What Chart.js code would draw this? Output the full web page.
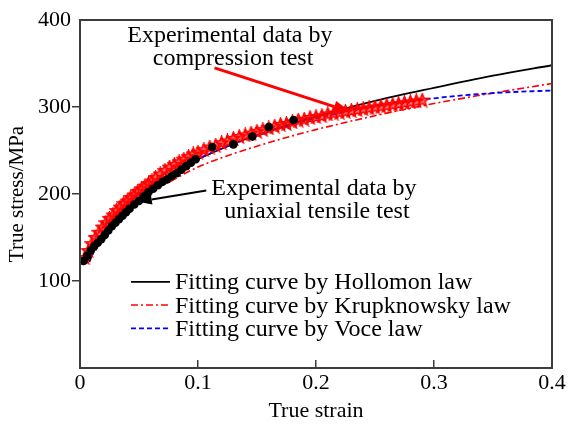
<!DOCTYPE html>
<html lang="en">
<head>
<meta charset="UTF-8">
<title>True stress - true strain</title>
<script src="https://cdn.jsdelivr.net/npm/chart.js"></script>
<style>
  body { margin: 0; background: #fff; }
</style>
</head>
<body>
<canvas id="myChart" width="569" height="426"></canvas>
<script>
// axis ticks
const strainTicks = [0, 0.1, 0.2, 0.3, 0.4];
const stressTicks = [0, 100, 200, 300, 400];

const legendLabels = [
    'Fitting curve by Hollomon law',
    'Fitting curve by Krupknowsky law',
    'Fitting curve by Voce law'
];

// fitting curves
const hollomonStrain = [0.008, 0.01, 0.02, 0.03, 0.04, 0.05, 0.06, 0.08, 0.1, 0.12, 0.14, 0.16, 0.18, 0.2, 0.25, 0.3, 0.35, 0.4];
const hollomonStress = [122, 129, 156, 174, 188, 199, 209, 226, 240, 252, 263, 272, 281, 289, 307, 322, 336, 348];

const krupStrain = [0.005, 0.01, 0.02, 0.03, 0.04, 0.05, 0.06, 0.08, 0.1, 0.125, 0.15, 0.175, 0.2, 0.25, 0.3, 0.35, 0.4];
const krupStress = [121, 133, 155, 170, 183, 193, 202, 217, 231, 244, 255, 265, 274, 290, 304, 316, 327];

const voceStrain = [0.005, 0.01, 0.02, 0.03, 0.04, 0.05, 0.06, 0.08, 0.1, 0.125, 0.15, 0.175, 0.2, 0.25, 0.3, 0.35, 0.4];
const voceStress = [120, 130, 150, 167, 182, 195, 207, 225, 240, 255, 267, 278, 287, 301, 310, 316, 319];

// experimental data
const tensileStrain = [0.003, 0.006, 0.009, 0.012, 0.015, 0.018, 0.021, 0.024, 0.027, 0.030, 0.033, 0.036, 0.039, 0.042,
    0.046, 0.050, 0.054, 0.058, 0.062, 0.066, 0.070, 0.074, 0.078, 0.082, 0.086, 0.090, 0.094, 0.098,
    0.112, 0.130, 0.146, 0.160, 0.181];
const tensileStress = [123, 129, 135, 140, 144, 148, 153, 158, 163, 167, 171, 175, 179, 183,
    188, 192, 197, 202, 206, 210, 214, 217, 221, 224, 228, 232, 236, 240,
    254, 257, 266, 277, 285];

const compStrain = [0.004, 0.007, 0.010, 0.013, 0.016, 0.019, 0.022, 0.025, 0.028, 0.031, 0.034, 0.037, 0.040, 0.043,
    0.046, 0.049, 0.052, 0.055, 0.058, 0.061, 0.064, 0.068, 0.072, 0.076, 0.080, 0.084, 0.088, 0.092,
    0.096, 0.100, 0.105, 0.110, 0.115, 0.120, 0.125, 0.130, 0.135, 0.140, 0.145, 0.150, 0.155, 0.160,
    0.165, 0.170, 0.175, 0.180, 0.185, 0.190, 0.195, 0.200, 0.205, 0.210, 0.215, 0.220, 0.225, 0.230,
    0.235, 0.240, 0.245, 0.250, 0.255, 0.260, 0.265, 0.270, 0.275, 0.280, 0.285, 0.290];
const compStress = [127, 135, 143, 150, 156, 162, 167, 172, 176, 181, 185, 189, 192, 196,
    199, 203, 206, 209, 212, 215, 219, 223, 227, 231, 234, 237, 240, 243,
    246, 248, 251, 254, 256, 259, 261, 264, 266, 268, 270, 272, 274, 276,
    278, 280, 281, 283, 285, 286, 288, 289, 290, 292, 293, 294, 295, 296,
    297, 298, 299, 300, 301, 302, 303, 304, 305, 306, 307, 308];

function toPoints(xs, ys) {
    return xs.map((x, i) => ({ x: x, y: ys[i] }));
}

// red five-pointed star used as point marker
const starMark = document.createElement('canvas');
starMark.width = 15;
starMark.height = 15;
(function () {
    const c = starMark.getContext('2d');
    c.beginPath();
    for (let i = 0; i < 10; i++) {
        const r = i % 2 === 0 ? 6.8 : 2.9;
        const a = -Math.PI / 2 + i * Math.PI / 5;
        const px = 7.5 + r * Math.cos(a), py = 8 + r * Math.sin(a);
        if (i === 0) c.moveTo(px, py); else c.lineTo(px, py);
    }
    c.closePath();
    c.fillStyle = 'rgba(255,0,0,0.55)';
    c.fill();
    c.strokeStyle = '#ff0000';
    c.lineWidth = 1.6;
    c.stroke();
})();

const serif = '"Liberation Serif", "Times New Roman", serif';

// annotation text, placed in data units
const notes = [
    { text: 'Experimental data by', x: 0.127, y: 375 },
    { text: 'compression test', x: 0.1297, y: 348 },
    { text: 'Experimental data by', x: 0.1983, y: 199 },
    { text: 'uniaxial tensile test', x: 0.2008, y: 172 }
];

function drawArrow(ctx, x0, y0, x1, y1, color, width, headLen, headWid) {
    const ang = Math.atan2(y1 - y0, x1 - x0);
    const bx = x1 - headLen * Math.cos(ang), by = y1 - headLen * Math.sin(ang);
    ctx.strokeStyle = color;
    ctx.fillStyle = color;
    ctx.lineWidth = width;
    ctx.setLineDash([]);
    ctx.beginPath();
    ctx.moveTo(x0, y0);
    ctx.lineTo(bx, by);
    ctx.stroke();
    ctx.beginPath();
    ctx.moveTo(x1, y1);
    ctx.lineTo(bx + headWid / 2 * Math.sin(ang), by - headWid / 2 * Math.cos(ang));
    ctx.lineTo(bx - headWid / 2 * Math.sin(ang), by + headWid / 2 * Math.cos(ang));
    ctx.closePath();
    ctx.fill();
}

const overlay = {
    id: 'overlay',
    afterDatasetsDraw(chart) {
        const ctx = chart.ctx;
        const a = chart.chartArea;
        const xs = chart.scales.x, ys = chart.scales.y;
        ctx.save();

        // box around the plot
        ctx.strokeStyle = '#3c3c3c';
        ctx.lineWidth = 2;
        ctx.strokeRect(a.left, a.top, a.right - a.left, a.bottom - a.top);

        // arrows
        drawArrow(ctx, xs.getPixelForValue(0.114), ys.getPixelForValue(345),
            xs.getPixelForValue(0.23), ys.getPixelForValue(294), '#ff0000', 3, 18, 12);
        drawArrow(ctx, xs.getPixelForValue(0.107), ys.getPixelForValue(204),
            xs.getPixelForValue(0.049), ys.getPixelForValue(191), '#000000', 2, 14, 10);

        // notes
        ctx.fillStyle = '#000';
        ctx.font = '24px ' + serif;
        ctx.textAlign = 'center';
        ctx.textBaseline = 'alphabetic';
        notes.forEach(n => ctx.fillText(n.text, xs.getPixelForValue(n.x), ys.getPixelForValue(n.y)));

        // legend inside the plot
        const rows = [[99, 90.5], [72.4, 63.4], [45.6, 36.4]];
        chart.data.datasets.slice(0, 3).forEach((ds, i) => {
            const ly = ys.getPixelForValue(rows[i][0]);
            ctx.strokeStyle = ds.borderColor;
            ctx.lineWidth = ds.borderWidth;
            ctx.setLineDash(ds.borderDash || []);
            ctx.beginPath();
            ctx.moveTo(xs.getPixelForValue(0.0432), ly);
            ctx.lineTo(xs.getPixelForValue(0.0763), ly);
            ctx.stroke();
            ctx.setLineDash([]);
            ctx.fillStyle = '#000';
            ctx.textAlign = 'left';
            ctx.fillText(ds.label, xs.getPixelForValue(0.0805), ys.getPixelForValue(rows[i][1]));
        });
        ctx.restore();
    }
};

const ctx = document.getElementById('myChart').getContext('2d');
const myChart = new Chart(ctx, {
    type: 'scatter',
    data: {
        datasets: [
            {
                label: legendLabels[0],
                data: toPoints(hollomonStrain, hollomonStress),
                showLine: true,
                borderColor: '#000000',
                borderWidth: 1.8,
                pointRadius: 0,
                cubicInterpolationMode: 'monotone',
                order: 4
            },
            {
                label: legendLabels[1],
                data: toPoints(krupStrain, krupStress),
                showLine: true,
                borderColor: '#ff0000',
                borderWidth: 1.6,
                borderDash: [7, 3, 2, 3],
                pointRadius: 0,
                cubicInterpolationMode: 'monotone',
                order: 3
            },
            {
                label: legendLabels[2],
                data: toPoints(voceStrain, voceStress),
                showLine: true,
                borderColor: '#0000ff',
                borderWidth: 1.8,
                borderDash: [5, 3],
                pointRadius: 0,
                cubicInterpolationMode: 'monotone',
                order: 2
            },
            {
                label: 'Experimental data by compression test',
                data: toPoints(compStrain, compStress),
                pointStyle: starMark,
                pointRadius: 6,
                order: 1
            },
            {
                label: 'Experimental data by uniaxial tensile test',
                data: toPoints(tensileStrain, tensileStress),
                pointStyle: 'circle',
                pointRadius: 4.3,
                backgroundColor: '#000000',
                borderWidth: 0,
                order: 0
            }
        ]
    },
    options: {
        responsive: false,
        animation: false,
        layout: { autoPadding: false, padding: { top: 20, right: 17, left: 0, bottom: 0 } },
        plugins: {
            legend: { display: false },
            tooltip: { enabled: false }
        },
        scales: {
            x: {
                type: 'linear',
                min: 0,
                max: 0.4,
                afterBuildTicks: s => { s.ticks = strainTicks.map(v => ({ value: v })); },
                afterFit: s => { s.height = 58; s.paddingLeft = 0; s.paddingRight = 0; },
                border: { display: false },
                grid: {
                    drawOnChartArea: false,
                    tickLength: -8,
                    lineWidth: 1.5,
                    color: c => (c.tick && (c.tick.value === 0 || c.tick.value === 0.4)) ? 'rgba(0,0,0,0)' : '#3c3c3c'
                },
                ticks: {
                    color: '#000',
                    padding: 10,
                    maxRotation: 0,
                    font: { family: serif, size: 22 },
                    callback: v => v === 0 ? '0' : v.toFixed(1)
                },
                title: {
                    display: true,
                    text: 'True strain',
                    color: '#000',
                    padding: { top: 0, bottom: 2 },
                    font: { family: serif, size: 22 }
                }
            },
            y: {
                type: 'linear',
                min: 0,
                max: 400,
                afterBuildTicks: s => { s.ticks = stressTicks.map(v => ({ value: v })); },
                afterFit: s => { s.width = 80; s.paddingTop = 0; s.paddingBottom = 0; },
                border: { display: false },
                grid: {
                    drawOnChartArea: false,
                    tickLength: 8,
                    lineWidth: 1.5,
                    color: c => (c.tick && (c.tick.value === 0 || c.tick.value === 400)) ? 'rgba(0,0,0,0)' : '#3c3c3c'
                },
                ticks: {
                    color: '#000',
                    padding: 1,
                    font: { family: serif, size: 22 },
                    callback: v => v === 0 ? '' : String(v)
                },
                title: {
                    display: true,
                    text: 'True stress/MPa',
                    color: '#000',
                    padding: { top: 5, bottom: 0 },
                    font: { family: serif, size: 21 }
                }
            }
        }
    },
    plugins: [overlay]
});
</script>
</body>
</html>
